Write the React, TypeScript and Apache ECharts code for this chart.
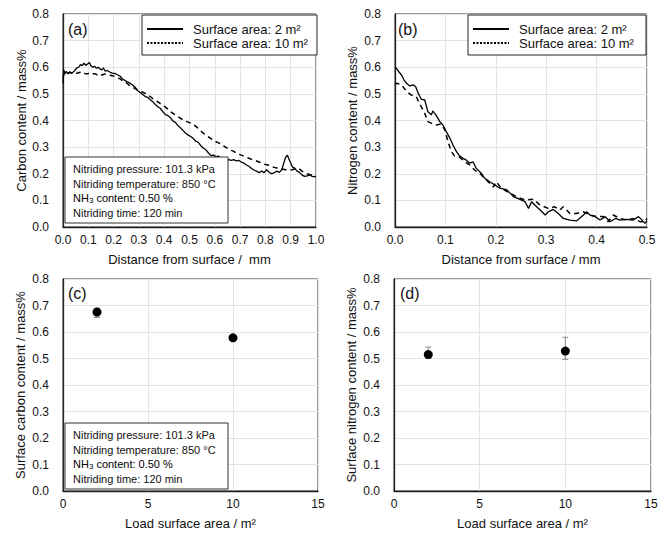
import React, { useEffect, useRef } from "react";
import * as echarts from "echarts";

// ---------- Data ----------
// (a) Carbon content vs distance, 2 m2 (solid)
const distA2 = [0.000,0.003,0.008,0.013,0.020,0.027,0.034,0.041,0.048,0.055,0.062,0.069,0.076,0.083,0.090,0.097,0.104,0.111,0.118,0.125,0.132,0.139,0.146,0.153,0.160,0.167,0.175,0.185,0.195,0.205,0.215,0.225,0.235,0.245,0.255,0.265,0.275,0.285,0.295,0.305,0.315,0.325,0.335,0.345,0.355,0.365,0.375,0.385,0.395,0.405,0.415,0.425,0.435,0.445,0.455,0.465,0.475,0.485,0.495,0.505,0.515,0.525,0.535,0.545,0.555,0.565,0.575,0.585,0.595,0.605,0.615,0.625,0.635,0.645,0.655,0.665,0.675,0.685,0.695,0.705,0.715,0.725,0.735,0.745,0.755,0.765,0.775,0.785,0.795,0.805,0.815,0.825,0.835,0.845,0.855,0.865,0.872,0.880,0.887,0.893,0.900,0.907,0.915,0.925,0.935,0.945,0.955,0.965,0.975,0.985,1.000];
const carbonA2 = [0.540,0.590,0.575,0.585,0.575,0.583,0.578,0.582,0.590,0.598,0.600,0.610,0.606,0.615,0.607,0.612,0.618,0.605,0.600,0.604,0.596,0.600,0.594,0.590,0.597,0.585,0.588,0.582,0.578,0.577,0.572,0.567,0.556,0.550,0.545,0.540,0.533,0.525,0.512,0.505,0.498,0.490,0.487,0.478,0.470,0.460,0.452,0.445,0.433,0.422,0.418,0.410,0.398,0.392,0.380,0.372,0.362,0.352,0.345,0.340,0.332,0.322,0.318,0.305,0.296,0.290,0.278,0.268,0.270,0.264,0.266,0.258,0.260,0.252,0.253,0.250,0.253,0.248,0.250,0.244,0.240,0.233,0.228,0.220,0.214,0.210,0.204,0.210,0.204,0.215,0.205,0.200,0.204,0.210,0.205,0.215,0.238,0.262,0.270,0.255,0.240,0.225,0.222,0.210,0.205,0.195,0.190,0.192,0.196,0.190,0.188];
// (a) Carbon content vs distance, 10 m2 (dashed)
const distA10 = [0.000,0.005,0.015,0.025,0.035,0.045,0.055,0.065,0.075,0.085,0.095,0.105,0.115,0.125,0.135,0.145,0.155,0.165,0.175,0.185,0.195,0.205,0.215,0.225,0.235,0.245,0.255,0.265,0.275,0.285,0.295,0.305,0.315,0.325,0.335,0.345,0.355,0.365,0.375,0.385,0.395,0.405,0.415,0.425,0.435,0.445,0.455,0.465,0.475,0.485,0.495,0.505,0.515,0.525,0.535,0.545,0.555,0.565,0.575,0.585,0.595,0.605,0.615,0.625,0.635,0.645,0.655,0.665,0.675,0.685,0.695,0.705,0.715,0.725,0.735,0.745,0.755,0.765,0.775,0.785,0.795,0.805,0.815,0.825,0.835,0.845,0.855,0.865,0.875,0.885,0.895,0.905,0.915,0.925,0.935,0.945,0.955,0.965,0.975,0.985,1.000];
const carbonA10 = [0.560,0.580,0.576,0.580,0.578,0.582,0.577,0.580,0.583,0.577,0.575,0.578,0.574,0.576,0.572,0.575,0.571,0.575,0.572,0.570,0.568,0.566,0.562,0.556,0.550,0.545,0.538,0.530,0.525,0.520,0.514,0.510,0.506,0.502,0.496,0.490,0.482,0.476,0.470,0.463,0.458,0.450,0.442,0.433,0.427,0.420,0.414,0.408,0.402,0.397,0.394,0.390,0.385,0.378,0.370,0.360,0.352,0.345,0.338,0.332,0.326,0.320,0.316,0.312,0.305,0.298,0.294,0.288,0.284,0.278,0.273,0.270,0.266,0.262,0.258,0.254,0.251,0.248,0.244,0.240,0.236,0.234,0.232,0.228,0.224,0.222,0.220,0.218,0.216,0.214,0.214,0.215,0.218,0.220,0.217,0.210,0.204,0.200,0.197,0.196,0.195];

// (b) Nitrogen content vs distance, 2 m2 (solid)
const distB2 = [0.000,0.003,0.008,0.013,0.018,0.023,0.029,0.036,0.041,0.046,0.052,0.059,0.065,0.072,0.075,0.081,0.089,0.095,0.102,0.109,0.115,0.122,0.128,0.135,0.141,0.148,0.155,0.161,0.171,0.178,0.188,0.198,0.208,0.222,0.235,0.248,0.258,0.265,0.271,0.281,0.288,0.298,0.304,0.314,0.324,0.334,0.347,0.360,0.374,0.380,0.387,0.397,0.407,0.417,0.427,0.437,0.447,0.460,0.473,0.483,0.490,0.496,0.500];
const nitrogenB2 = [0.600,0.596,0.582,0.571,0.552,0.540,0.530,0.534,0.527,0.503,0.480,0.477,0.434,0.421,0.436,0.421,0.396,0.383,0.358,0.333,0.308,0.283,0.267,0.258,0.252,0.240,0.245,0.221,0.202,0.183,0.170,0.158,0.146,0.139,0.114,0.104,0.095,0.070,0.095,0.076,0.064,0.045,0.057,0.066,0.051,0.032,0.026,0.023,0.045,0.057,0.045,0.039,0.026,0.039,0.020,0.032,0.026,0.029,0.026,0.039,0.026,0.014,0.023];
// (b) Nitrogen content vs distance, 10 m2 (dashed)
const distB10 = [0.000,0.003,0.013,0.023,0.032,0.042,0.052,0.059,0.065,0.072,0.082,0.092,0.099,0.105,0.112,0.118,0.128,0.138,0.148,0.158,0.168,0.178,0.188,0.195,0.201,0.211,0.225,0.241,0.258,0.275,0.288,0.304,0.317,0.327,0.334,0.347,0.360,0.374,0.387,0.400,0.413,0.423,0.433,0.447,0.460,0.473,0.486,0.496,0.500];
const nitrogenB10 = [0.535,0.540,0.534,0.509,0.496,0.490,0.452,0.427,0.396,0.390,0.383,0.387,0.365,0.321,0.283,0.267,0.262,0.246,0.233,0.214,0.202,0.183,0.164,0.150,0.170,0.146,0.130,0.114,0.101,0.104,0.082,0.070,0.076,0.064,0.076,0.051,0.051,0.057,0.045,0.039,0.039,0.020,0.045,0.032,0.026,0.032,0.020,0.020,0.032];

// (c) Surface carbon content vs load surface area
const loadArea = [2, 10];
const surfCarbon = [0.675, 0.578];
const surfCarbonLow = [0.655, 0.572];
const surfCarbonHigh = [0.690, 0.584];
// (d) Surface nitrogen content vs load surface area
const surfNitrogen = [0.515, 0.528];
const surfNitrogenLow = [0.500, 0.497];
const surfNitrogenHigh = [0.543, 0.580];

const distTicksA = [0, 1, 0.1];
const distTicksB = [0, 0.5, 0.1];
const contentTicks = [0, 0.8, 0.1];
const loadTicks = [0, 15, 5];

const conditionLines = [
  "Nitriding pressure: 101.3 kPa",
  "Nitriding temperature: 850 °C",
  "{n|NH}{s|3}{n| content: 0.50 %}",
  "Nitriding time: 120 min",
];
const legendLabels = ["Surface area: 2 m²", "Surface area: 10 m²"];

// ---------- Styling ----------
const FONT = "'Liberation Sans', Arial, Helvetica, sans-serif";
const TXT = "#111";
const GRID_LINE = "#e4e4e4";
const ZG = 100;

const pair = (xs: number[], ys: number[]) => xs.map((x, i) => [x, ys[i]]);

function xAxisOf(gi: number, t: number[], name: string, digits: number) {
  return {
    type: "value",
    gridIndex: gi,
    min: t[0],
    max: t[1],
    interval: t[2],
    name,
    nameLocation: "middle",
    nameGap: 26,
    nameTextStyle: { fontFamily: FONT, fontSize: 13, color: TXT },
    axisLine: { show: true, onZero: false, lineStyle: { color: "#222", width: 1.3 } },
    axisTick: { show: false },
    axisLabel: {
      fontFamily: FONT,
      fontSize: 12,
      color: TXT,
      margin: 7,
      formatter: (v: number) => v.toFixed(digits),
    },
    splitLine: { show: true, lineStyle: { color: GRID_LINE, width: 1 } },
  };
}

function yAxisOf(gi: number, name: string, gap: number) {
  return {
    type: "value",
    gridIndex: gi,
    min: contentTicks[0],
    max: contentTicks[1],
    interval: contentTicks[2],
    name,
    nameLocation: "middle",
    nameGap: gap,
    nameTextStyle: { fontFamily: FONT, fontSize: 13, color: TXT },
    axisLine: { show: true, onZero: false, lineStyle: { color: "#222", width: 1.3 } },
    axisTick: { show: false },
    axisLabel: {
      fontFamily: FONT,
      fontSize: 12,
      color: TXT,
      margin: 14,
      formatter: (v: number) => v.toFixed(1),
    },
    splitLine: { show: true, lineStyle: { color: GRID_LINE, width: 1 } },
  };
}

function errorSeries(xi: number, lows: number[], highs: number[]) {
  return {
    type: "custom",
    xAxisIndex: xi,
    yAxisIndex: xi,
    silent: true,
    z: 1,
    data: loadArea.map((x, i) => [x, lows[i], highs[i]]),
    renderItem: (params: any, api: any) => {
      const x = api.value(0);
      const lo = api.coord([x, api.value(1)]);
      const hi = api.coord([x, api.value(2)]);
      const w = 3;
      const st = { stroke: "#888", lineWidth: 1 };
      return {
        type: "group",
        children: [
          { type: "line", shape: { x1: lo[0], y1: lo[1], x2: hi[0], y2: hi[1] }, style: st },
          { type: "line", shape: { x1: lo[0] - w, y1: lo[1], x2: lo[0] + w, y2: lo[1] }, style: st },
          { type: "line", shape: { x1: hi[0] - w, y1: hi[1], x2: hi[0] + w, y2: hi[1] }, style: st },
        ],
      };
    },
  };
}

function legendBox(x: number, y: number, w: number, h: number) {
  return {
    type: "group",
    x,
    y,
    z: ZG,
    children: [
      { type: "rect", z: ZG, shape: { x: 0, y: 0, width: w, height: h }, style: { fill: "#fff", stroke: "#222", lineWidth: 1 } },
      { type: "line", z: ZG + 1, shape: { x1: 5, y1: 14, x2: 41, y2: 14 }, style: { stroke: "#000", lineWidth: 2 } },
      { type: "line", z: ZG + 1, shape: { x1: 5, y1: 28, x2: 41, y2: 28 }, style: { stroke: "#000", lineWidth: 2, lineDash: [2, 1.5] } },
      { type: "text", z: ZG + 1, x: 51, y: 14, style: { text: legendLabels[0], font: `13px ${FONT}`, fill: TXT, verticalAlign: "middle" } },
      { type: "text", z: ZG + 1, x: 51, y: 28, style: { text: legendLabels[1], font: `13px ${FONT}`, fill: TXT, verticalAlign: "middle" } },
    ],
  };
}

function conditionBox(x: number, y: number) {
  const rich = {
    n: { fontSize: 11, fontFamily: FONT, color: TXT, lineHeight: 13 },
    s: { fontSize: 8, fontFamily: FONT, color: TXT, lineHeight: 8, verticalAlign: "bottom" },
  };
  return {
    type: "group",
    x,
    y,
    z: ZG,
    children: [
      { type: "rect", z: ZG, shape: { x: 0, y: 0, width: 163, height: 66 }, style: { fill: "#fff", stroke: "#333", lineWidth: 1 } },
      ...conditionLines.map((t, i) => ({
        type: "text",
        z: ZG + 1,
        x: 8,
        y: 12 + i * 14.7,
        style: i === 2
          ? { text: t, rich, verticalAlign: "middle" }
          : { text: t, font: `11px ${FONT}`, fill: TXT, verticalAlign: "middle" },
      })),
    ],
  };
}

function panelLabel(x: number, y: number, t: string) {
  return { type: "text", x, y, z: ZG, style: { text: t, font: `16px ${FONT}`, fill: TXT, verticalAlign: "middle" } };
}

export default function App() {
  const ref = useRef<HTMLDivElement>(null);
  useEffect(() => {
    if (!ref.current) return;
    const chart = echarts.init(ref.current, null, { renderer: "svg" });
    const gridStyle = { show: true, borderColor: "#333", borderWidth: 1, backgroundColor: "#fff", containLabel: false };
    const option: any = {
      animation: false,
      backgroundColor: "#fff",
      grid: [
        { ...gridStyle, left: 63, top: 14, width: 253, height: 213 },
        { ...gridStyle, left: 395, top: 14, width: 252, height: 213 },
        { ...gridStyle, left: 63, top: 279, width: 255, height: 212 },
        { ...gridStyle, left: 394, top: 279, width: 257, height: 212 },
      ],
      xAxis: [
        xAxisOf(0, distTicksA, "Distance from surface /  mm", 1),
        xAxisOf(1, distTicksB, "Distance from surface / mm", 1),
        xAxisOf(2, loadTicks, "Load surface area / m²", 0),
        xAxisOf(3, loadTicks, "Load surface area / m²", 0),
      ],
      yAxis: [
        yAxisOf(0, "Carbon content / mass%", 34),
        yAxisOf(1, "Nitrogen content / mass%", 36),
        yAxisOf(2, "Surface carbon content / mass%", 36),
        yAxisOf(3, "Surface nitrogen content / mass%", 36),
      ],
      series: [
        {
          type: "line", xAxisIndex: 0, yAxisIndex: 0, showSymbol: false, symbol: "none",
          data: pair(distA2, carbonA2), lineStyle: { color: "#000", width: 1.3 }, z: 3,
        },
        {
          type: "line", xAxisIndex: 0, yAxisIndex: 0, showSymbol: false, symbol: "none",
          data: pair(distA10, carbonA10), lineStyle: { color: "#000", width: 1.5, type: [5, 4] }, z: 2,
        },
        {
          type: "line", xAxisIndex: 1, yAxisIndex: 1, showSymbol: false, symbol: "none",
          data: pair(distB2, nitrogenB2), lineStyle: { color: "#000", width: 1.3 }, z: 3,
        },
        {
          type: "line", xAxisIndex: 1, yAxisIndex: 1, showSymbol: false, symbol: "none",
          data: pair(distB10, nitrogenB10), lineStyle: { color: "#000", width: 1.5, type: [5, 4] }, z: 2,
        },
        errorSeries(2, surfCarbonLow, surfCarbonHigh),
        {
          type: "scatter", xAxisIndex: 2, yAxisIndex: 2, symbol: "circle", symbolSize: 9, z: 3,
          data: pair(loadArea, surfCarbon), itemStyle: { color: "#000", opacity: 1 },
        },
        errorSeries(3, surfNitrogenLow, surfNitrogenHigh),
        {
          type: "scatter", xAxisIndex: 3, yAxisIndex: 3, symbol: "circle", symbolSize: 9, z: 3,
          data: pair(loadArea, surfNitrogen), itemStyle: { color: "#000", opacity: 1 },
        },
      ],
      graphic: [
        legendBox(142, 15, 175, 40),
        legendBox(468, 15, 178, 40),
        conditionBox(65, 157),
        conditionBox(65, 423),
        panelLabel(68, 29, "(a)"),
        panelLabel(398, 29, "(b)"),
        panelLabel(68, 293, "(c)"),
        panelLabel(400, 293, "(d)"),
      ],
    };
    chart.setOption(option);
    return () => chart.dispose();
  }, []);
  return (
    <div
      ref={ref}
      style={{ position: "absolute", left: 0, top: 0, width: 670, height: 534, background: "#fff" }}
    />
  );
}
